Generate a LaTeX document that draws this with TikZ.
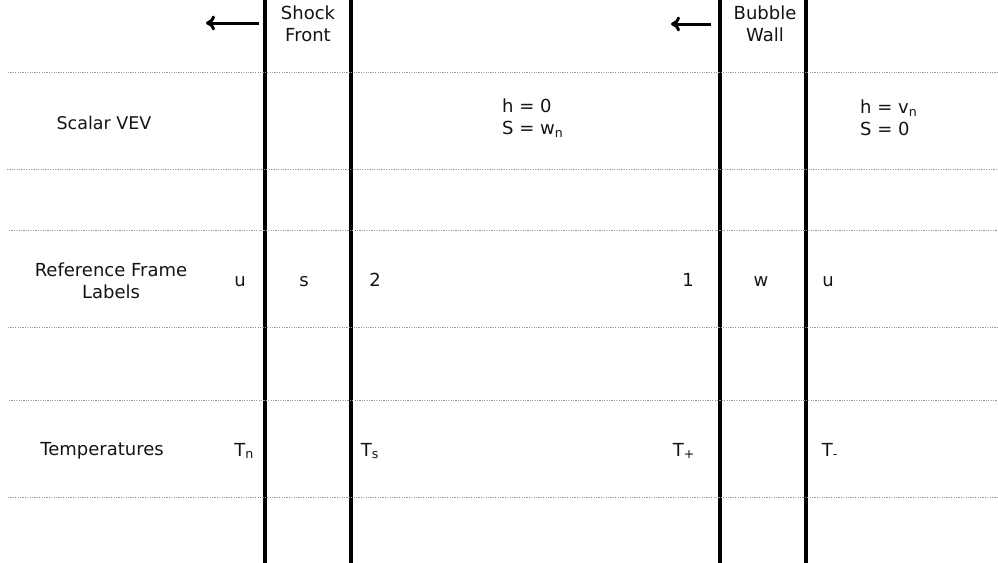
\documentclass[tikz,border=0pt]{standalone}
\usepackage{fontspec}
\setmainfont{DejaVu Sans}
\usetikzlibrary{arrows.meta}
\begin{document}
\begin{tikzpicture}[x=1pt,y=-1pt,
  txt/.style={inner sep=0pt,font=\fontsize{18}{22}\selectfont,text=black!92},
  lbl/.style={txt,anchor=base},
  wall/.style={line width=4pt,black},
  sep/.style={gray!80,line width=0.9pt,dash pattern=on 1.2pt off 1.2pt},
  mover/.style={line width=3pt,-{To[length=9pt,width=15pt,line width=3pt]}}]
\useasboundingbox (0,0) rectangle (998,562);
% walls
\foreach \n/\x in {a/265,b/351,c/720,d/806}{
  \coordinate (\n top) at (\x,-2);
  \coordinate (\n bot) at (\x,564);
  \draw[wall] (\n top) -- (\n bot);
}
% separators
\foreach \n/\y/\s in {l1/72/8,l2/169/7,l3/230/9,l4/327/8,l5/400/9,l6/497/8}{
  \coordinate (\n L) at (\s,\y);
  \coordinate (\n R) at (998,\y);
  \draw[sep] (\n L) -- (\n R);
}
% arrows
\coordinate (sa1) at (259,23); \coordinate (sa2) at (206,23);
\coordinate (ba1) at (711,24); \coordinate (ba2) at (671,24);
\draw[mover] (sa1) -- (sa2);
\draw[mover] (ba1) -- (ba2);
% headings
\node[txt,align=center] (shock) at (308,24) {Shock\\Front};
\node[txt,align=center] (bubble) at (765,24) {Bubble\\Wall};
% scalar row
\node[txt,font=\fontsize{17.5}{21}\selectfont] (vev) at (104,123) {Scalar VEV};
\node[txt,align=left,anchor=west] (sym) at (502,118) {h = 0\\S = w\textsubscript{n}};
\node[txt,align=left,anchor=west] (brk) at (860,118) {h = v\textsubscript{n}\\S = 0};
% frame row
\node[txt,align=center] (ref) at (111,281) {Reference Frame\\Labels};
\node[lbl] (fu1) at (240,286) {u};
\node[lbl] (fs) at (304,286) {s};
\node[lbl] (f2) at (375,286) {2};
\node[lbl] (f1) at (688,286) {1};
\node[lbl] (fw) at (761,286) {w};
\node[lbl] (fu2) at (828,286) {u};
% temperatures
\node[txt] (temp) at (102,451) {Temperatures};
\node[lbl] (tn) at (244,456) {T\textsubscript{n}};
\node[lbl] (ts) at (370,456) {T\textsubscript{s}};
\node[lbl] (tp) at (684,456) {T\textsubscript{+}};
\node[lbl] (tm) at (830,456) {T\textsubscript{-}};
\end{tikzpicture}
\end{document}
